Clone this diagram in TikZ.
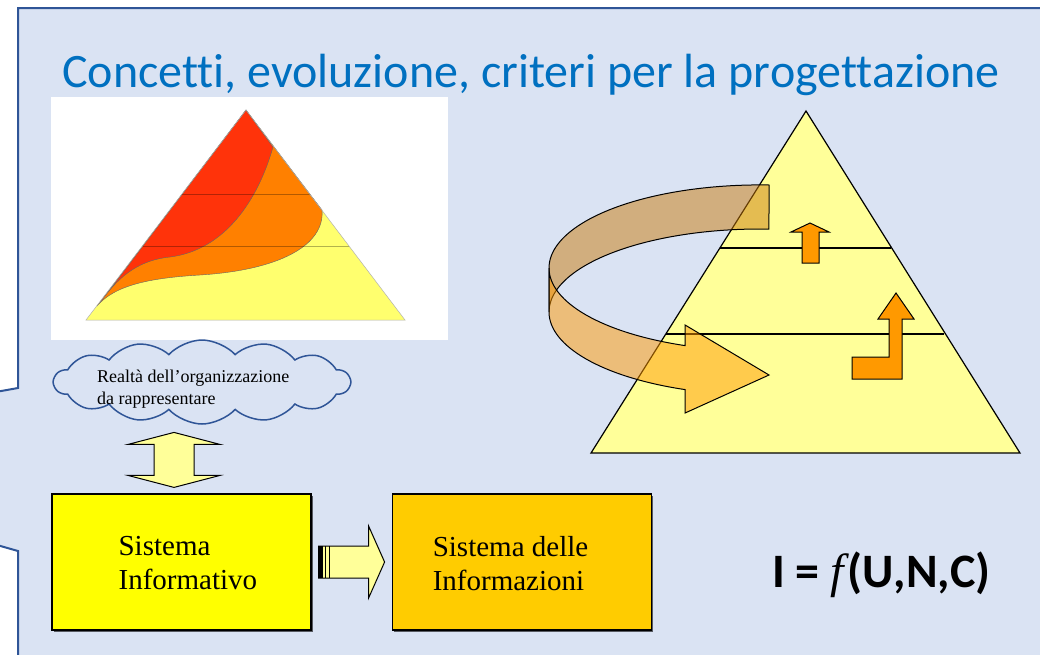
\documentclass[tikz,border=0pt]{standalone}
\usepackage{fontspec}
\setmainfont{Liberation Serif}
\newfontfamily\calibri[Ligatures=NoCommon]{Carlito}
\usetikzlibrary{positioning,calc,shapes.symbols,shadows}
\definecolor{bgblue}{RGB}{218,227,243}
\definecolor{frameblue}{RGB}{47,85,151}
\definecolor{titleblue}{RGB}{0,112,192}
\definecolor{siyellow}{RGB}{255,255,0}
\definecolor{sigold}{RGB}{255,204,0}
\definecolor{paleyellow}{RGB}{255,255,153}
\definecolor{arroworange}{RGB}{255,153,0}
\definecolor{pyryellow}{RGB}{255,255,110}
\definecolor{pyrorange}{RGB}{255,128,0}
\definecolor{pyrred}{RGB}{255,51,10}
\definecolor{bandback}{RGB}{202,123,11}
\definecolor{bandfront}{RGB}{255,153,0}
\tikzset{
    box/.style={rectangle,draw,line width=1.2pt,minimum width=259pt,minimum height=136pt,
        drop shadow={shadow xshift=1.5pt,shadow yshift=-1.5pt,fill=black,opacity=.6}},
    boxtext/.style={font=\fontsize{29}{34.5}\selectfont,align=left,inner sep=0pt,anchor=north west},
    blockarrow/.style={draw,line width=1pt,fill=paleyellow,line join=miter},
    upshape/.style={draw,line width=1pt,fill=arroworange,line join=miter},
    band/.style={draw=black,line width=1pt,fill opacity=.5},
    layer/.style={draw=black,opacity=.3,line width=1pt}
}

\begin{document}
\begin{tikzpicture}[x=1pt,y=1pt]

                \useasboundingbox (0,0) rectangle (1040,-654);
                \clip (0,0) rectangle (1040,-654);

                % slide frame with the callout notch
                \fill[bgblue] (18,-8) rectangle (1045,-660);
                \fill[bgblue] (18,-388) -- (-10,-393) -- (-10,-543) -- (18,-551) -- cycle;
                \draw[frameblue,line width=2pt] (1045,-8) -- (18,-8) -- (18,-388) -- (-10,-393);
                \draw[frameblue,line width=2pt] (-10,-543) -- (18,-551) -- (18,-660);

                \node[font=\calibri\fontsize{48}{56}\selectfont,text=titleblue,anchor=base west,inner sep=0pt]
                    (title) at (62,-87) {Concetti, evoluzione, criteri per la progettazione};

                % left pyramid
                \fill[white] (51,-97) rectangle (448,-340);
                \coordinate (la) at (246,-110);
                \coordinate (lb) at (86,-320);
                \coordinate (lc) at (405,-320);
                \fill[pyryellow] (la) -- (lb) -- (lc) -- cycle;
                \filldraw[fill=pyrorange,draw=black!60,line width=.4pt] (la) -- (97,-306)
                    .. controls (115,-285) and (150,-278) .. (200,-275)
                    .. controls (280,-270) and (325,-245) .. (322,-210) -- cycle;
                \filldraw[fill=pyrred,draw=black!60,line width=.4pt] (la) -- (102,-300)
                    .. controls (120,-275) and (140,-260) .. (170,-257)
                    .. controls (225,-250) and (258,-200) .. (273,-147) -- cycle;
                \draw[layer] (182,-194) -- (310,-194);
                \draw[layer] (143,-246) -- (349,-246);
                \draw[gray!60,line width=.5pt] (la) -- (lb) -- (lc) -- cycle;

                % right pyramid
                \coordinate (ra) at (806,-111);
                \coordinate (rb) at (591,-453);
                \coordinate (rc) at (1020,-453);
                \filldraw[fill=paleyellow,line width=1.2pt,line join=miter] (ra) -- (rb) -- (rc) -- cycle;
                \draw[line width=1.2pt] (720,-248) -- (891,-248);
                \draw[line width=1.2pt] (666,-334) -- (944,-334);
                \draw[upshape] (810,-223) -- (829,-232) -- (819,-232) -- (819,-263) -- (802,-263)
                    -- (802,-232) -- (791,-232) -- cycle;
                \draw[upshape] (852,-357) -- (889,-357) -- (889,-319) -- (878,-319) -- (896,-293)
                    -- (914,-319) -- (902,-319) -- (902,-379) -- (852,-379) -- cycle;

                % curved arrow round the pyramid
                \filldraw[band,fill=bandback] (769,-185)
                    arc[start angle=87.56,end angle=180,x radius=211,y radius=83] -- (549,-312)
                    arc[start angle=180,end angle=87.56,x radius=211,y radius=83] -- cycle;
                \filldraw[band,fill=bandfront] (549,-312)
                    arc[start angle=180,end angle=249.2,x radius=211,y radius=83]
                    -- (685.1,-413) -- (769,-375) -- (685.1,-325) -- (685.1,-345.6)
                    arc[start angle=249.2,end angle=180,x radius=211,y radius=83] -- cycle;

                % cloud
                \node[cloud,draw=frameblue,line width=1.5pt,cloud puffs=14,cloud puff arc=95,aspect=3.6,
                    minimum width=296pt,minimum height=84pt,inner sep=0pt] (cloud) at (202,-382) {};
                \node[font=\fontsize{18}{22}\selectfont,align=left,inner sep=0pt,anchor=north west]
                    (cloud text) at (97,-369.5) {Realtà dell’organizzazione\\da rappresentare};

                % boxes
                \node[box,fill=siyellow] (info) at (181.5,-562) {};
                \node[box,fill=sigold,right=80pt of info] (infos) {};
                \node[boxtext] (info text) at ([xshift=67pt,yshift=26pt]info.west) {Sistema\\Informativo};
                \node[boxtext] (infos text) at ([xshift=41pt,yshift=26pt]infos.west) {Sistema delle\\Informazioni};

                % block arrows
                \draw[blockarrow] ([xshift=-7.5pt,yshift=6pt]info.north) -- ++(46,12) -- ++(-26,0) -- ++(0,31)
                    -- ++(26,0) -- ++(-46,12) -- ++(-46,-12) -- ++(26,0) -- ++(0,-31) -- ++(-26,0) -- cycle;
                \draw[blockarrow] ([xshift=7pt]info.east) ++(0,16) -- ++(50,0) -- ++(0,20) -- ++(16,-36)
                    -- ++(-16,-36) -- ++(0,20) -- ++(-50,0) -- cycle;
                \fill[black] ([xshift=7pt]info.east) ++(0,16) rectangle ++(4,-32);
                \draw[line width=.8pt] ([xshift=14pt]info.east) ++(0,16) -- ++(0,-32);
                \draw[line width=.8pt] ([xshift=18pt]info.east) ++(0,16) -- ++(0,-32);

                \node[font=\calibri\bfseries\fontsize{48}{54}\selectfont,anchor=base west,inner sep=0pt]
                    (formula) at (772,-587) {I = {\rmfamily\mdseries\itshape f\kern4pt}(U,N,C)};

\end{tikzpicture}
\end{document}
